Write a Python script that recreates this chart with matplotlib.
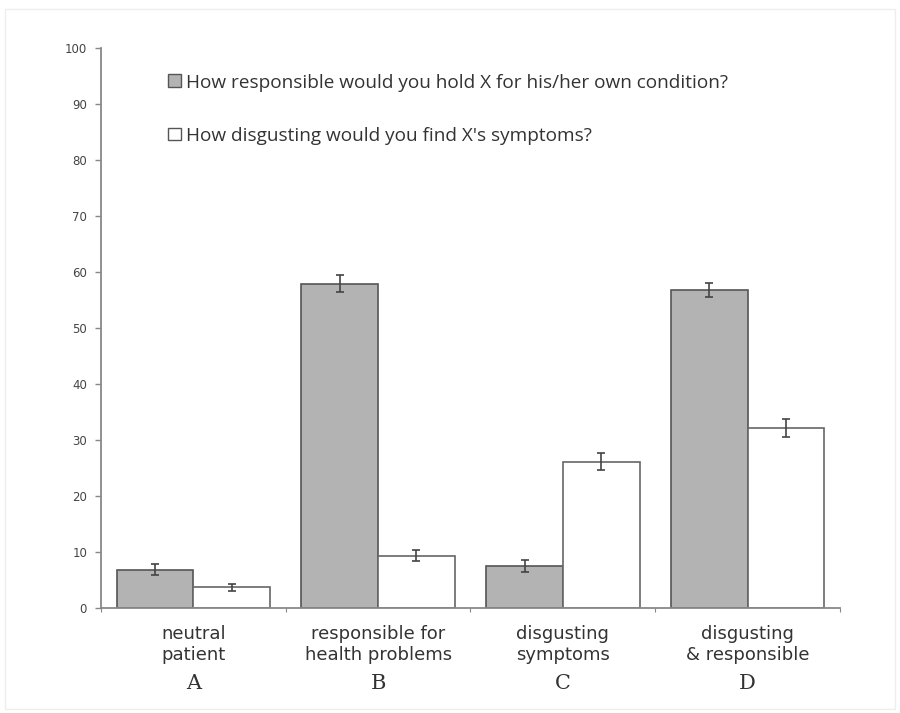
import matplotlib.pyplot as plt
import numpy as np
from matplotlib.patches import Rectangle, Patch

categories = ["neutral\npatient", "responsible for\nhealth problems", "disgusting\nsymptoms", "disgusting\n& responsible"]
letters = ["A", "B", "C", "D"]
responsible = [6.8, 57.9, 7.5, 56.8]
responsible_err = [1.0, 1.5, 1.0, 1.3]
disgusting = [3.7, 9.3, 26.1, 32.1]
disgusting_err = [0.6, 1.0, 1.5, 1.6]
legend_labels = ["How responsible would you hold X for his/her own condition?",
                 "How disgusting would you find X's symptoms?"]

fig = plt.figure(figsize=(9, 7.13), dpi=100)
ax = fig.add_axes([0.1122, 0.1473, 0.8211, 0.7854])

x = np.arange(len(categories))
w = 0.415
ax.bar(x - w / 2, responsible, w, color='#b3b3b3', edgecolor='#555555', linewidth=1.2,
       yerr=responsible_err, error_kw=dict(ecolor='#444444', elinewidth=1.2, capsize=3, capthick=1.2))
ax.bar(x + w / 2, disgusting, w, color='white', edgecolor='#666666', linewidth=1.2,
       yerr=disgusting_err, error_kw=dict(ecolor='#444444', elinewidth=1.2, capsize=3, capthick=1.2))

ax.set_xlim(-0.5, len(categories) - 0.5)
ax.set_ylim(0, 100)
ax.set_yticks(np.arange(0, 101, 10))
ax.tick_params(axis='y', labelsize=8.5, labelcolor='#444444', color='#888888',
               length=4, width=1, pad=6)

ax.set_xticks(np.arange(len(categories) + 1) - 0.5)
ax.set_xticklabels([])
ax.tick_params(axis='x', length=3, color='#888888')

for s in ['top', 'right']:
    ax.spines[s].set_visible(False)
for s in ['left', 'bottom']:
    ax.spines[s].set_color('#888888')
    ax.spines[s].set_linewidth(1.3)

trans = ax.get_xaxis_transform()
for i, (c, l) in enumerate(zip(categories, letters)):
    ax.text(i, -0.031, c, transform=trans, ha='center', va='top', fontsize=13,
            family='DejaVu Sans', color='#333333', linespacing=1.2)
    ax.text(i, -0.118, l, transform=trans, ha='center', va='top', fontsize=15,
            family='DejaVu Serif', color='#333333')

handles = [Patch(facecolor='#b3b3b3', edgecolor='#555555'),
           Patch(facecolor='white', edgecolor='#555555')]
ax.legend(handles, legend_labels, loc='upper left', bbox_to_anchor=(0.068, 0.985),
          frameon=False, handlelength=0.65, handleheight=0.65, handletextpad=0.3,
          labelspacing=1.85, prop={'family': 'Open Sans', 'size': 13.7}, labelcolor='#333333')

fig.patches.append(Rectangle((0.006, 0.006), 0.988, 0.982, transform=fig.transFigure,
                             fill=False, edgecolor='#eeeeee', linewidth=1))

fig.savefig('out.png', dpi=100)
